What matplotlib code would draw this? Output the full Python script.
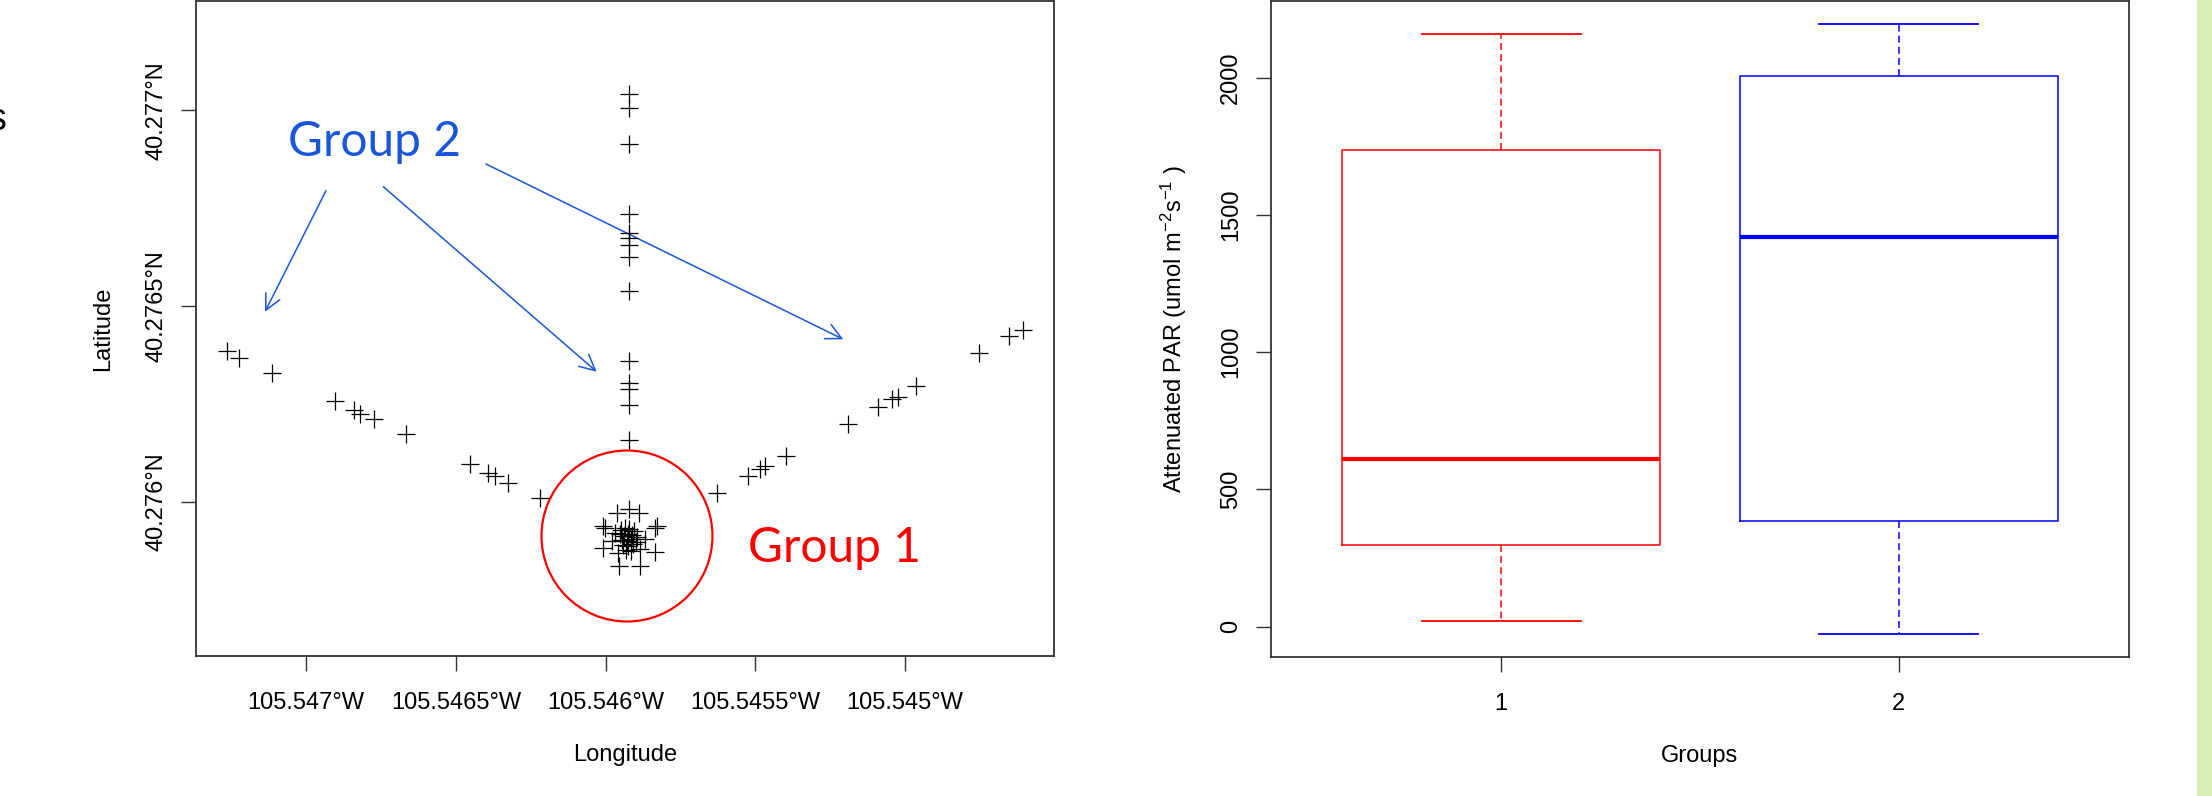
import matplotlib
matplotlib.use("Agg")
import matplotlib.pyplot as plt
from matplotlib.patches import Ellipse, FancyArrowPatch, Rectangle

plt.rcParams["font.family"] = ["Liberation Sans", "DejaVu Sans"]
plt.rcParams["mathtext.default"] = "regular"
plt.rcParams["lines.scale_dashes"] = False

# ---- sample locations (deg) ----
# west arm of the transect
arm_w_lon = [-105.547265, -105.547223, -105.547115, -105.546903, -105.546840,
             -105.546820, -105.546773, -105.546666, -105.546453, -105.546391,
             -105.546369, -105.546325, -105.546219]
arm_w_lat = [40.276386, 40.276368, 40.276330, 40.276258, 40.276234,
             40.276224, 40.276211, 40.276173, 40.276096, 40.276075,
             40.276066, 40.276049, 40.276011]
# north arm (single column)
col_lat = [40.277042, 40.277006, 40.276914, 40.276735, 40.276687, 40.276674,
           40.276656, 40.276626, 40.276539, 40.276360, 40.276304, 40.276289,
           40.276248, 40.276158]
col_lon = [-105.545920] * len(col_lat)
# east arm
arm_e_lon = [-105.545629, -105.545525, -105.545484, -105.545467, -105.545398,
             -105.545189, -105.545089, -105.545044, -105.545022, -105.544963,
             -105.544752, -105.544651, -105.544605]
arm_e_lat = [40.276024, 40.276066, 40.276084, 40.276092, 40.276117,
             40.276200, 40.276243, 40.276264, 40.276268, 40.276296,
             40.276381, 40.276424, 40.276438]
# tree cluster (group 1)
clu_lon = [-105.545963, -105.545921, -105.545887, -105.546007, -105.546002,
           -105.545829, -105.545835, -105.545968, -105.546007, -105.545835,
           -105.545955, -105.545885,
           -105.545948, -105.545935, -105.545922, -105.545905,
           -105.545952, -105.545938, -105.545925, -105.545911, -105.545895,
           -105.545945, -105.545928, -105.545915, -105.545898,
           -105.545942, -105.545925, -105.545908,
           -105.545932, -105.545915, -105.545978, -105.545868, -105.545885,
           -105.545958]
clu_lat = [40.275973, 40.275981, 40.275973, 40.275939, 40.275934,
           40.275939, 40.275934, 40.275922, 40.275882, 40.275873,
           40.275837, 40.275837,
           40.275928, 40.275934, 40.275931, 40.275926,
           40.275918, 40.275913, 40.275918, 40.275916, 40.275911,
           40.275903, 40.275900, 40.275906, 40.275898,
           40.275890, 40.275888, 40.275893,
           40.275877, 40.275875, 40.275900, 40.275906, 40.275880,
           40.275870]

lon_ticks = [-105.547, -105.5465, -105.546, -105.5455, -105.545]
lon_labels = ["105.547°W", "105.5465°W", "105.546°W", "105.5455°W", "105.545°W"]
lat_ticks = [40.276, 40.2765, 40.277]
lat_labels = ["40.276°N", "40.2765°N", "40.277°N"]

# ---- attenuated PAR boxplot stats ----
groups = ["1", "2"]
par_whislo = [20, -25]
par_q1 = [298, 387]
par_med = [610, 1420]
par_q3 = [1738, 2006]
par_whishi = [2160, 2195]
box_colors = ["#ff0000", "#0000ff"]

AX_C = "#333333"
BLUE = "#1a56db"
RED = "#ff0000"

fig = plt.figure(figsize=(22.12, 7.96), dpi=100)


def style_axes(ax):
    for s in ax.spines.values():
        s.set_color(AX_C)
        s.set_linewidth(1.3)
    ax.tick_params(direction="out", length=10.8, width=1.0, color=AX_C,
                   labelsize=17, top=False, right=False)
    ax.tick_params(axis="x", pad=15)
    ax.tick_params(axis="y", pad=10)


# === map of sampling points ===
ax = fig.add_axes([196 / 2212, 1 - 656 / 796, 858 / 2212, 655 / 796])
all_lon = arm_w_lon + col_lon + arm_e_lon + clu_lon
all_lat = arm_w_lat + col_lat + arm_e_lat + clu_lat
ax.plot(all_lon, all_lat, "+", color="black", markersize=12.5, markeredgewidth=0.9)
ax.set_xlim(-105.547368, -105.544502)
ax.set_ylim(40.275607, 40.277279)
ax.set_xticks(lon_ticks)
ax.set_xticklabels(lon_labels)
ax.set_yticks(lat_ticks)
ax.set_yticklabels(lat_labels, rotation=90, va="center")
ax.set_xlabel("Longitude", fontsize=17, labelpad=22)
ax.set_ylabel("Latitude", fontsize=17, labelpad=22)
style_axes(ax)

# slide annotations
ax.add_patch(Ellipse((0.5023, 0.1832), 0.1993, 0.2611, transform=ax.transAxes,
                     fill=False, edgecolor=RED, linewidth=1.6))
ax.text(0.6434, 0.1435, "Group 1", transform=ax.transAxes, color=RED,
        fontsize=34.5, family="Lato", ha="left", va="baseline")
ax.text(0.1076, 0.7634, "Group 2", transform=ax.transAxes, color=BLUE,
        fontsize=34.5, family="Lato", ha="left", va="baseline")
for (x0, y0), (x1, y1) in [((0.1515, 0.7104), (0.0804, 0.5256)),
                           ((0.2183, 0.7165), (0.4670, 0.4340)),
                           ((0.3380, 0.7511), (0.7544, 0.4835))]:
    ax.add_patch(FancyArrowPatch((x0, y0), (x1, y1), transform=ax.transAxes,
                                 arrowstyle="->", mutation_scale=28,
                                 color=BLUE, linewidth=1.1,
                                 shrinkA=0, shrinkB=0))

# === boxplot of attenuated PAR ===
ax2 = fig.add_axes([1270.7 / 2212, 1 - 656.7 / 796, 858.6 / 2212, 655.7 / 796])
stats = []
for i, g in enumerate(groups):
    stats.append(dict(label=g, med=par_med[i], q1=par_q1[i], q3=par_q3[i],
                      whislo=par_whislo[i], whishi=par_whishi[i], fliers=[]))
art = ax2.bxp(stats, positions=[1, 2], widths=0.8, capwidths=0.4,
              showfliers=False, manage_ticks=False)
for i, c in enumerate(box_colors):
    art["boxes"][i].set(color=c, linewidth=1.1)
    art["medians"][i].set(color=c, linewidth=3.0, solid_capstyle="butt")
    for w in art["whiskers"][2 * i:2 * i + 2]:
        w.set(color=c, linewidth=1.1, linestyle=(0, (5, 3)))
    for cp in art["caps"][2 * i:2 * i + 2]:
        cp.set(color=c, linewidth=1.3)
ax2.set_xlim(0.42, 2.58)
ax2.set_ylim(-109, 2279)
ax2.set_xticks([1, 2])
ax2.set_xticklabels(groups)
ax2.set_yticks([0, 500, 1000, 1500, 2000])
ax2.set_yticklabels(["0", "500", "1000", "1500", "2000"], rotation=90, va="center")
ax2.set_xlabel("Groups", fontsize=17, labelpad=22)
ax2.set_ylabel("Attenuated PAR (umol m$^{-2}$s$^{-1}$ )", fontsize=17, labelpad=22)
style_axes(ax2)

# slide decorations: green strip and a clipped letter at the left edge
fig.patches.append(Rectangle((2197 / 2212, 0), 15 / 2212, 1, transform=fig.transFigure,
                             facecolor="#d6edb3", edgecolor="none"))
fig.text(-3 / 2212, 1 - 120 / 796, "s", fontsize=27, ha="center", va="center")

fig.savefig("out.png", dpi=100)
